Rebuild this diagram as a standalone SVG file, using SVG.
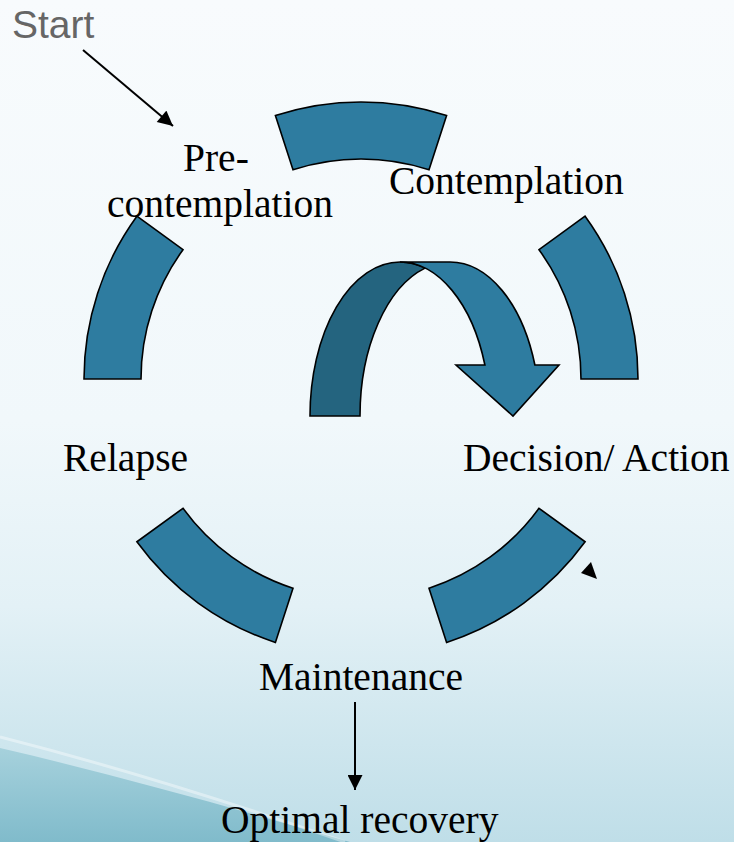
<svg xmlns="http://www.w3.org/2000/svg" width="734" height="842" viewBox="0 0 734 842">
  <defs>
    <linearGradient id="bg" x1="0" y1="0" x2="0" y2="1">
      <stop offset="0" stop-color="#f8fbfd"/>
      <stop offset="0.5" stop-color="#f1f8fb"/>
      <stop offset="0.72" stop-color="#e3f1f6"/>
      <stop offset="1" stop-color="#bfdee8"/>
    </linearGradient>
    <linearGradient id="swoosh" x1="0" y1="0" x2="0" y2="1">
      <stop offset="0" stop-color="#a6d1dc"/>
      <stop offset="1" stop-color="#80bbcb"/>
    </linearGradient>
    <marker id="ah" viewBox="0 0 10 10" refX="10" refY="5" markerWidth="16" markerHeight="15" markerUnits="userSpaceOnUse" orient="auto">
      <path d="M0,0 L10,5 L0,10 Z" fill="#000"/>
    </marker>
    <style>
      .seg { fill: #2e7ca0; stroke: #000; stroke-width: 1.6; stroke-linejoin: miter; }
      .segdark { fill: #24647f; stroke: #000; stroke-width: 1.6; }
      .lbl { font-family: "Liberation Serif", "Times New Roman", serif; font-size: 39.5px; fill: #000; }
      .start { font-family: "Liberation Sans", Arial, sans-serif; font-size: 39px; fill: #666666; }
      .conn { stroke: #000; stroke-width: 2; fill: none; }
    </style>
  </defs>

  <rect x="0" y="0" width="734" height="842" fill="url(#bg)"/>
  <path d="M0,748 C120,776 240,810 350,842 L0,842 Z" fill="url(#swoosh)"/>
  <path d="M0,737 C110,765 230,802 345,842" fill="none" stroke="#ffffff" stroke-opacity="0.4" stroke-width="3"/>

  <g id="ring">
    <path id="seg-top" class="seg" d="M275.4,115.6 A277,277 0 0 1 446.6,115.6 L429,169.8 A220,220 0 0 0 293,169.8 Z"/>
    <path id="seg-right" class="seg" d="M585.1,216.2 A277,277 0 0 1 638,379 L581,379 A220,220 0 0 0 539,249.7 Z"/>
    <path id="seg-lowright" class="seg" d="M585.1,541.8 A277,277 0 0 1 446.6,642.4 L429,588.2 A220,220 0 0 0 539,508.3 Z"/>
    <path id="seg-lowleft" class="seg" d="M275.4,642.4 A277,277 0 0 1 136.9,541.8 L183,508.3 A220,220 0 0 0 293,588.2 Z"/>
    <path id="seg-left" class="seg" d="M84,379 A277,277 0 0 1 136.9,216.2 L183,249.7 A220,220 0 0 0 141,379 Z"/>
  </g>

  <g id="u-arrow">
    <path class="segdark" d="M310,416 A90,154 0 0 1 400,262 A90,154 0 0 1 425,268.1 A90,154 0 0 0 360,416 Z"/>
    <path class="seg" d="M400,262 L450,262 A90,154 0 0 1 534.9,365 L559,365 L513,416 L456,365 L484.9,365 A90,154 0 0 0 400,262 Z"/>
  </g>

  <g id="connectors">
    <line class="conn" x1="83" y1="50" x2="173" y2="126" marker-end="url(#ah)"/>
    <line class="conn" x1="355" y1="702" x2="355" y2="790" marker-end="url(#ah)"/>
    <polygon points="581,573 591,562 597,579" fill="#000"/>
  </g>

  <g id="node-start"><text class="start" x="12" y="38">Start</text></g>
  <g id="node-precontemplation">
    <text class="lbl" x="183" y="171">Pre-</text>
    <text class="lbl" x="107" y="217">contemplation</text>
  </g>
  <g id="node-contemplation"><text class="lbl" x="389" y="194">Contemplation</text></g>
  <g id="node-decision"><text class="lbl" x="463" y="471">Decision/ Action</text></g>
  <g id="node-relapse"><text class="lbl" x="63" y="471">Relapse</text></g>
  <g id="node-maintenance"><text class="lbl" x="259" y="690">Maintenance</text></g>
  <g id="node-optimal"><text class="lbl" x="221" y="833">Optimal recovery</text></g>
</svg>
